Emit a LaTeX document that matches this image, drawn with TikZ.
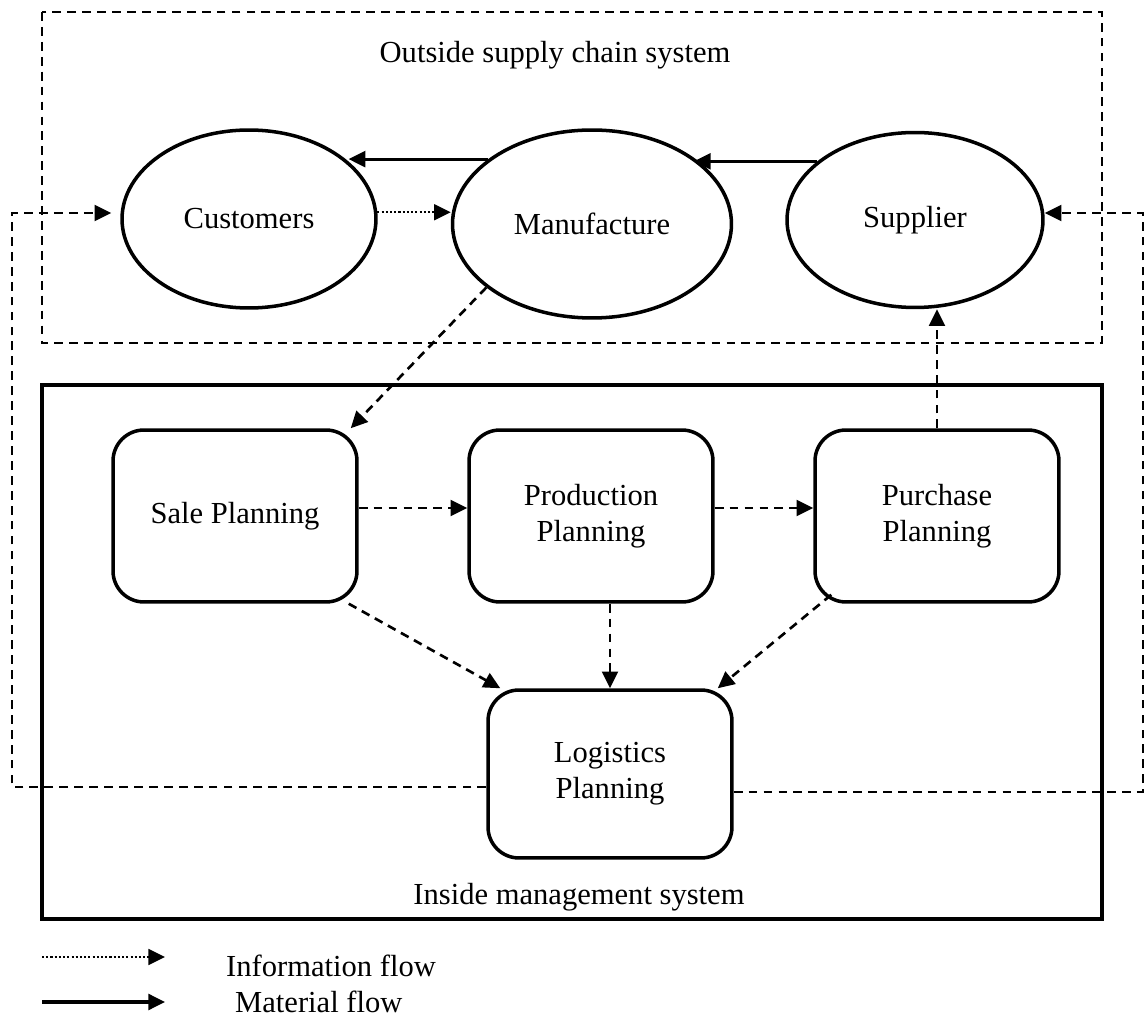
\documentclass[tikz,border=0pt]{standalone}
\usepackage{fontspec}
\setmainfont{Liberation Serif}
\usetikzlibrary{shapes.geometric,arrows.meta,calc}
\begin{document}
\begin{tikzpicture}[x=0.02cm,y=-0.02cm,
  lbl/.style={font=\fontsize{17.4}{20.5}\selectfont},
  oval/.style={ellipse, draw, line width=2pt, inner sep=0pt, lbl},
  plan/.style={rectangle, rounded corners=0.62cm, draw, line width=2pt,
    minimum width=4.88cm, minimum height=3.44cm, align=center, lbl},
  head/.style={-{Triangle[length=9.5pt,width=9pt]}},
  info/.style={head, line width=1.5pt, dash pattern=on 5pt off 3.5pt},
  dotflow/.style={head, line width=1.3pt, dash pattern=on 1.2pt off 1.2pt},
  matflow/.style={head, line width=1.8pt},
  frame/.style={line width=1.5pt, dash pattern=on 5pt off 3.5pt}]
\useasboundingbox (0,0) rectangle (1147,1016);

% the two systems
\draw[frame] (42,12) rectangle (1102,343);
\draw[line width=2.3pt] (42,385) rectangle (1102,919);
\node[lbl, anchor=base] (outtitle) at (555,63) {Outside supply chain system};
\node[lbl, anchor=base] (intitle) at (579,905) {Inside management system};

% supply chain partners
\node[oval, minimum width=5.08cm, minimum height=3.56cm] (cust) at (249,219) {Customers};
\node[oval, minimum width=5.58cm, minimum height=3.76cm] (manu) at (592,224) {Manufacture};
\node[oval, minimum width=5.12cm, minimum height=3.5cm] (sup) at (915,220) {Supplier};

% planning functions
\node[plan] (sale) at (235,516) {Sale Planning};
\node[plan] (prod) at (591,516) {Production\\Planning};
\node[plan] (pur) at (937,516) {Purchase\\Planning};
\node[plan, minimum height=3.36cm] (log) at (610,774) {Logistics\\Planning};

% material flow
\draw[matflow] (manu.148) -- (cust.30 |- manu.148);
\draw[matflow] (sup.149) -- (manu.33 |- sup.149);
% information flow
\draw[dotflow] (cust.3) -- (manu.west |- cust.3);

% planning links
\draw[info] (manu.211) -- ($(sale.north east)+(-8,0)$);
\draw[info] ($(sale.east)+(0,-8)$) -- ($(prod.west)+(0,-8)$);
\draw[info] ($(prod.east)+(0,-8)$) -- ($(pur.west)+(0,-8)$);
\draw[info] (pur.north) -- (pur.north |- sup.south);
\draw[info] ($(sale.south east)+(-10,0)$) -- ($(log.north west)+(14,0)$);
\draw[info] (log.north |- prod.south) -- (log.north);
\draw[info] ($(pur.south west)+(18,-9)$) -- ($(log.north east)+(-16,0)$);

% logistics feedback to customers and supplier
\coordinate (lcorner) at (12,213);
\coordinate (rcorner) at (1143,213);
\draw[info] ($(log.west)+(0,13)$) -| (lcorner) -- ($(cust.west)+(-9,-6)$);
\draw[info] ($(log.east)+(0,18)$) -| (rcorner) -- ($(sup.east)+(0,-7)$);

% legend
\coordinate (ia) at (42,957);
\coordinate (ib) at (165,957);
\coordinate (ma) at (42,1002);
\coordinate (mb) at (165,1002);
\draw[dotflow] (ia) -- (ib);
\draw[matflow] (ma) -- (mb);
\node[lbl, anchor=base west] (infolbl) at (220,976) {Information flow};
\node[lbl, anchor=base west] (matlbl) at (229,1012) {Material flow};
\end{tikzpicture}
\end{document}
